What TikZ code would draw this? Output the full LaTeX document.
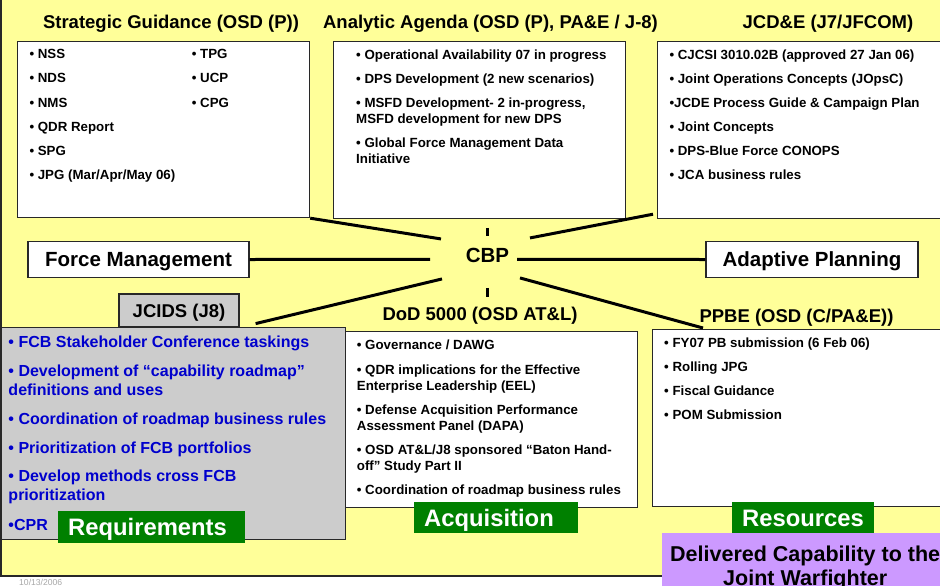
\documentclass[tikz,border=0pt]{standalone}
\usepackage{fontspec}
\setmainfont{Liberation Sans}
\usetikzlibrary{calc}
\definecolor{bgyel}{RGB}{255,255,153}
\definecolor{boxgray}{RGB}{204,204,204}
\definecolor{jgreen}{RGB}{0,128,0}
\definecolor{jblue}{RGB}{0,0,204}
\definecolor{lilac}{RGB}{204,153,255}
\definecolor{edge}{RGB}{40,40,40}
\begin{document}
\begin{tikzpicture}[
    x=1pt,
    y=-1pt,
    bx/.style={draw=edge, line width=1.2pt, fill=white, anchor=north west, inner sep=0},
    ttl/.style={anchor=base, inner sep=0, font=\fontsize{18.5}{20}\selectfont\bfseries},
    itm/.style={anchor=base west, inner sep=0, font=\fontsize{13.3}{16}\selectfont\bfseries},
    bitm/.style={itm, text=jblue, font=\fontsize{16}{19}\selectfont\bfseries},
    tag/.style={draw=edge, line width=1.2pt, fill=white, inner sep=0, text height=14.7pt, text depth=0pt,
      font=\fontsize{20.5}{22}\selectfont\bfseries},
    grn/.style={fill=jgreen, text=white, anchor=north west, inner xsep=10pt, inner ysep=0, align=left,
      text height=17pt, text depth=0pt, font=\fontsize{23.8}{26}\selectfont\bfseries},
    ray/.style={line width=3pt},
  ]
  \useasboundingbox (0,0) rectangle (940,586);
  \fill[bgyel] (0,0) rectangle (940,576);
  \draw[edge, line width=1.3pt] (1,0) -- (1,576) -- (940,576);
  \node[anchor=base west, inner sep=0, text=black!35, font=\fontsize{8.6}{9}\selectfont] (date) at (19,585) {10/13/2006};

  % top row
  \node[ttl] (sgttl) at (171,29) {Strategic Guidance (OSD (P))};
  \node[ttl] (aattl) at (490.5,29) {Analytic Agenda (OSD (P), PA\&E / J-8)};
  \node[ttl] (jcdettl) at (828,29) {JCD\&E (J7/JFCOM)};
  \node[bx, minimum width=292, minimum height=176] (sgbox) at (17,41) {};
  \node[bx, minimum width=292, minimum height=177] (aabox) at (333,41) {};
  \node[bx, minimum width=290, minimum height=177] (jcdebox) at (657,41) {};

  \node[itm] (sg1) at (29.3,59) {• NSS};
  \node[itm] (sg2) at (29.3,83) {• NDS};
  \node[itm] (sg3) at (29.3,107) {• NMS};
  \node[itm] (sg4) at (29.3,131) {• QDR Report};
  \node[itm] (sg5) at (29.3,155) {• SPG};
  \node[itm] (sg6) at (29.3,179) {• JPG (Mar/Apr/May 06)};
  \node[itm] (sg7) at (191.7,59) {• TPG};
  \node[itm] (sg8) at (191.7,83) {• UCP};
  \node[itm] (sg9) at (191.7,107) {• CPG};

  \node[itm] (aa1) at (356,59.5) {• Operational Availability 07 in progress};
  \node[itm] (aa2) at (356,83.5) {• DPS Development (2 new scenarios)};
  \node[itm] (aa3) at (356,107.5) {• MSFD Development- 2 in-progress,};
  \node[itm] (aa3b) at (356,123.5) {MSFD development for new DPS};
  \node[itm] (aa4) at (356,147.5) {• Global Force Management Data};
  \node[itm] (aa4b) at (356,163.5) {Initiative};

  \node[itm] (jc1) at (669.3,59.5) {• CJCSI 3010.02B (approved 27 Jan 06)};
  \node[itm] (jc2) at (669.3,83.5) {• Joint Operations Concepts (JOpsC)};
  \node[itm] (jc3) at (669.3,107.5) {•JCDE Process Guide \& Campaign Plan};
  \node[itm] (jc4) at (669.3,131.5) {• Joint Concepts};
  \node[itm] (jc5) at (669.3,155.5) {• DPS-Blue Force CONOPS};
  \node[itm] (jc6) at (669.3,179.5) {• JCA business rules};

  % middle row
  \node[tag, minimum width=221, minimum height=36] (fm) at (138.5,259.5) {Force Management};
  \node[tag, minimum width=212, minimum height=36] (ap) at (812,259.5) {Adaptive Planning};
  \node[anchor=base, inner sep=0, font=\fontsize{20.5}{22}\selectfont\bfseries] (cbp) at (487.5,262) {CBP};
  \coordinate (cbpnw) at ($(cbp)+(-46.5,-16)$);
  \coordinate (cbpw) at ($(cbp)+(-57.5,4.5)$);
  \coordinate (cbpsw) at ($(cbp)+(-45.5,24)$);
  \coordinate (cbpne) at ($(cbp)+(42.5,-17)$);
  \coordinate (cbpe) at ($(cbp)+(29.5,4.5)$);
  \coordinate (cbpse) at ($(cbp)+(32.5,23)$);
  \coordinate (cbpn1) at ($(cbp)+(0,-27)$);
  \coordinate (cbpn2) at ($(cbp)+(0,-19)$);
  \coordinate (cbps1) at ($(cbp)+(0,33)$);
  \coordinate (cbps2) at ($(cbp)+(0,42)$);

  % bottom row
  \node[ttl] (dodttl) at (480,320.5) {DoD 5000 (OSD AT\&L)};
  \node[ttl] (ppbettl) at (796.5,322) {PPBE (OSD (C/PA\&E))};
  \node[bx, minimum width=292, minimum height=176] (dodbox) at (345,331) {};
  \node[bx, minimum width=293, minimum height=177] (ppbebox) at (652,329) {};
  \node[bx, fill=boxgray, minimum width=344, minimum height=212] (jcidsbox) at (0.5,327) {};
  \node[tag, fill=boxgray, text height=13.3pt, minimum width=120, minimum height=33,
    font=\fontsize{18.5}{20}\selectfont\bfseries] (jcids) at (179,310.5) {JCIDS (J8)};

  \node[bitm] (jd1) at (8.3,347) {• FCB Stakeholder Conference taskings};
  \node[bitm] (jd2) at (8.3,376.5) {• Development of “capability roadmap”};
  \node[bitm] (jd2b) at (8.3,395) {definitions and uses};
  \node[bitm] (jd3) at (8.3,424) {• Coordination of roadmap business rules};
  \node[bitm] (jd4) at (8.3,453) {• Prioritization of FCB portfolios};
  \node[bitm] (jd5) at (8.3,481.5) {• Develop methods cross FCB};
  \node[bitm] (jd5b) at (8.3,500) {prioritization};
  \node[bitm] (jd6) at (8.3,530) {•CPR};

  \node[itm] (dod1) at (356.7,349.5) {• Governance / DAWG};
  \node[itm] (dod2) at (356.7,374) {• QDR implications for the Effective};
  \node[itm] (dod2b) at (356.7,390) {Enterprise Leadership (EEL)};
  \node[itm] (dod3) at (356.7,414) {• Defense Acquisition Performance};
  \node[itm] (dod3b) at (356.7,430.5) {Assessment Panel (DAPA)};
  \node[itm] (dod4) at (356.7,454.5) {• OSD AT\&L/J8 sponsored “Baton Hand-};
  \node[itm] (dod4b) at (356.7,470.5) {off” Study Part II};
  \node[itm] (dod5) at (356.7,494) {• Coordination of roadmap business rules};

  \node[itm] (pp1) at (664,347) {• FY07 PB submission (6 Feb 06)};
  \node[itm] (pp2) at (664,371) {• Rolling JPG};
  \node[itm] (pp3) at (664,395) {• Fiscal Guidance};
  \node[itm] (pp4) at (664,419) {• POM Submission};

  \node[grn, text width=167, minimum height=32] (req) at (58,511) {Requirements};
  \node[grn, text width=144, minimum height=31] (acq) at (414,502) {Acquisition};
  \node[grn, text width=122, minimum height=31] (res) at (732,502) {Resources};
  \node[fill=lilac, anchor=north west, minimum width=286, minimum height=70, inner sep=0, align=center,
    font=\fontsize{21.5}{24.5}\selectfont\bfseries] (dcap) at (662,533) {Delivered Capability to the\\Joint Warfighter};

  % rays round CBP
  \draw[ray] (sgbox.south east) -- (cbpnw);
  \draw[ray] (fm.east) -- (cbpw);
  \draw[ray] (cbpsw) -- ($(jcids.south east)+(16,-4)$);
  \draw[ray] (cbpne) -- ($(jcdebox.south west)+(-4,-5)$);
  \draw[ray] (cbpe) -- (ap.west);
  \draw[ray] (cbpse) -- ($(ppbebox.north west)+(51,-1)$);
  \draw[ray] (cbpn1) -- (cbpn2);
  \draw[ray] (cbps1) -- (cbps2);
\end{tikzpicture}
\end{document}
